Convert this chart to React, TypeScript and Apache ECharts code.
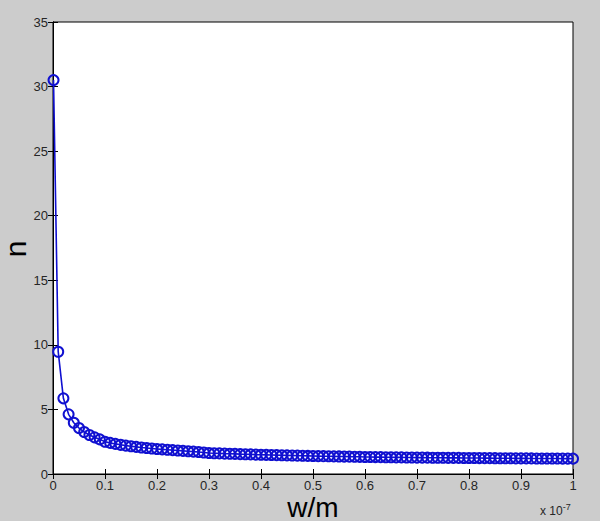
import React, { useEffect, useRef } from "react";
import * as echarts from "echarts";

const wValues = [
  0.001, 0.01, 0.02, 0.03, 0.04, 0.05, 0.06, 0.07, 0.08, 0.09, 0.1,
  0.11, 0.12, 0.13, 0.14, 0.15, 0.16, 0.17, 0.18, 0.19, 0.2,
  0.21, 0.22, 0.23, 0.24, 0.25, 0.26, 0.27, 0.28, 0.29, 0.3,
  0.31, 0.32, 0.33, 0.34, 0.35, 0.36, 0.37, 0.38, 0.39, 0.4,
  0.41, 0.42, 0.43, 0.44, 0.45, 0.46, 0.47, 0.48, 0.49, 0.5,
  0.51, 0.52, 0.53, 0.54, 0.55, 0.56, 0.57, 0.58, 0.59, 0.6,
  0.61, 0.62, 0.63, 0.64, 0.65, 0.66, 0.67, 0.68, 0.69, 0.7,
  0.71, 0.72, 0.73, 0.74, 0.75, 0.76, 0.77, 0.78, 0.79, 0.8,
  0.81, 0.82, 0.83, 0.84, 0.85, 0.86, 0.87, 0.88, 0.89, 0.9,
  0.91, 0.92, 0.93, 0.94, 0.95, 0.96, 0.97, 0.98, 0.99, 1.0,
];

const nValues = [
  30.5, 9.47, 5.86, 4.62, 3.97, 3.56, 3.25, 3.02, 2.84, 2.68, 2.5,
  2.41, 2.33, 2.26, 2.2, 2.15, 2.1, 2.05, 2.01, 1.97, 1.94,
  1.91, 1.88, 1.85, 1.82, 1.79, 1.76, 1.73, 1.7, 1.66, 1.63,
  1.61, 1.6, 1.58, 1.57, 1.56, 1.54, 1.53, 1.52, 1.5, 1.49,
  1.48, 1.47, 1.46, 1.45, 1.44, 1.43, 1.42, 1.41, 1.4, 1.39,
  1.385, 1.38, 1.37, 1.365, 1.36, 1.35, 1.345, 1.34, 1.33, 1.32,
  1.315, 1.31, 1.305, 1.3, 1.295, 1.29, 1.285, 1.28, 1.275, 1.27,
  1.267, 1.264, 1.261, 1.258, 1.255, 1.252, 1.249, 1.246, 1.243, 1.24,
  1.237, 1.234, 1.231, 1.228, 1.225, 1.222, 1.219, 1.216, 1.213, 1.21,
  1.208, 1.206, 1.204, 1.202, 1.2, 1.198, 1.196, 1.194, 1.192, 1.19,
];

const xTickLabels = ["0", "0.1", "0.2", "0.3", "0.4", "0.5", "0.6", "0.7", "0.8", "0.9", "1"];

export default function App() {
  const ref = useRef<HTMLDivElement>(null);
  useEffect(() => {
    if (!ref.current) return;
    const chart = echarts.init(ref.current, undefined, { renderer: "svg" });
    const font = "'Liberation Sans', Arial, sans-serif";
    const labelColor = "#262626";
    const blue = "#1010d0";
    const tick = { show: true, inside: true, length: 5, lineStyle: { color: "#000", width: 1 } };
    chart.setOption({
      animation: false,
      backgroundColor: "#cccccc",
      grid: {
        left: 53,
        top: 22,
        right: 27,
        bottom: 47,
        show: true,
        backgroundColor: "#ffffff",
        borderColor: "#000000",
        borderWidth: 1,
      },
      xAxis: [
        {
          type: "value",
          min: 0,
          max: 1,
          interval: 0.1,
          position: "bottom",
          axisLine: { show: true, lineStyle: { color: "#000", width: 1 } },
          axisTick: tick,
          splitLine: { show: false },
          axisLabel: {
            color: labelColor,
            fontFamily: font,
            fontSize: 13,
            margin: 5,
            formatter: (v: number) => xTickLabels[Math.round(v * 10)] ?? "",
          },
        },
        {
          type: "value",
          min: 0,
          max: 1,
          interval: 0.1,
          position: "top",
          axisLine: { show: true, lineStyle: { color: "#000", width: 1 } },
          axisTick: tick,
          splitLine: { show: false },
          axisLabel: { show: false },
        },
      ],
      yAxis: [
        {
          type: "value",
          min: 0,
          max: 35,
          interval: 5,
          position: "left",
          axisLine: { show: true, lineStyle: { color: "#000", width: 1 } },
          axisTick: tick,
          splitLine: { show: false },
          axisLabel: { color: labelColor, fontFamily: font, fontSize: 13, margin: 5 },
        },
        {
          type: "value",
          min: 0,
          max: 35,
          interval: 5,
          position: "right",
          axisLine: { show: true, lineStyle: { color: "#000", width: 1 } },
          axisTick: tick,
          splitLine: { show: false },
          axisLabel: { show: false },
        },
      ],
      series: [
        {
          type: "line",
          xAxisIndex: 0,
          yAxisIndex: 0,
          data: wValues.map((w, i) => [w, nValues[i]]),
          symbol: "circle",
          symbolSize: 10,
          showAllSymbol: true,
          lineStyle: { color: blue, width: 1.6 },
          itemStyle: { color: "rgba(0,0,0,0)", borderColor: blue, borderWidth: 2 },
        },
      ],
      graphic: [
        {
          type: "text",
          x: 313,
          y: 507,
          style: {
            text: "w/m",
            font: `28px ${font}`,
            fill: "#000",
            align: "center",
            verticalAlign: "middle",
          },
        },
        {
          type: "text",
          x: 15,
          y: 249,
          rotation: Math.PI / 2,
          style: { text: "n", font: `30px ${font}`, fill: "#000", align: "center", verticalAlign: "middle" },
        },
        {
          type: "text",
          x: 540,
          y: 502,
          style: {
            text: "x 10{s|-7}",
            font: `12px ${font}`,
            fill: "#262626",
            rich: { s: { fontSize: 9, verticalAlign: "top", padding: [0, 0, 8, 0], fontFamily: font, fill: "#262626" } },
          },
        },
      ],
    });
    return () => chart.dispose();
  }, []);
  return (
    <div
      ref={ref}
      style={{ position: "absolute", left: 0, top: 0, width: 600, height: 521 }}
    />
  );
}
